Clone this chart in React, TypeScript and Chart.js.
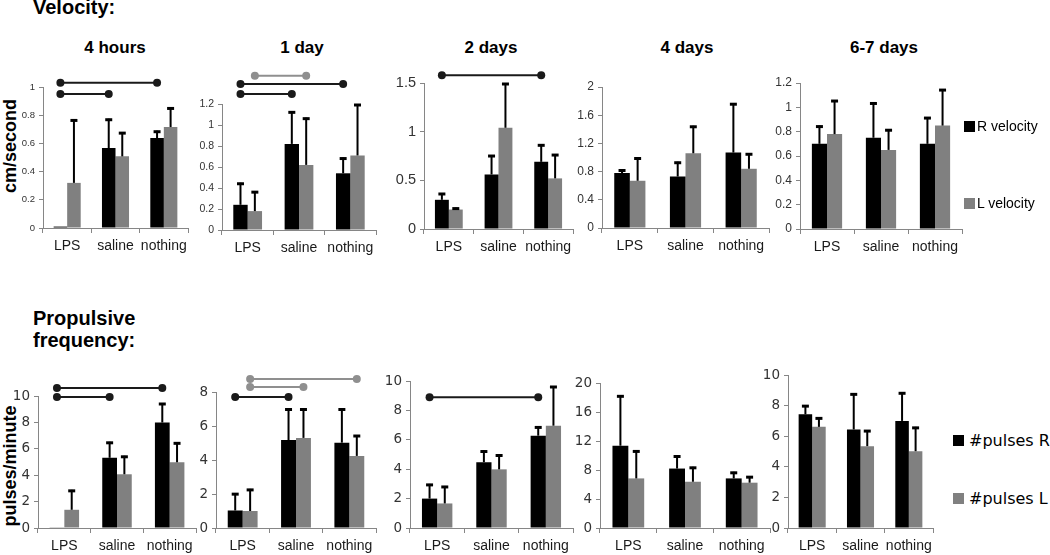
import React, { useEffect, useRef } from "react";
import { Chart, registerables } from "chart.js";

Chart.register(...registerables);

// ---------- data ----------
const categories = ["LPS", "saline", "nothing"];
const panelTitles = ["4 hours", "1 day", "2 days", "4 days", "6-7 days"];

// Velocity (cm/second): bar means and upper ends of the error bars, one row per time point
const velR = [
  [0.01, 0.567, 0.638],
  [0.24, 0.82, 0.54],
  [0.3, 0.56, 0.69],
  [0.78, 0.73, 1.07],
  [0.7, 0.75, 0.7],
];
const velL = [
  [0.32, 0.508, 0.716],
  [0.18, 0.62, 0.71],
  [0.2, 1.04, 0.52],
  [0.67, 1.06, 0.84],
  [0.78, 0.65, 0.85],
];
const velRErr = [
  [0.01, 0.775, 0.69],
  [0.45, 1.13, 0.69],
  [0.37, 0.76, 0.87],
  [0.83, 0.94, 1.77],
  [0.85, 1.04, 0.92],
];
const velLErr = [
  [0.77, 0.68, 0.855],
  [0.37, 1.07, 1.2],
  [0.22, 1.5, 0.77],
  [1.0, 1.45, 1.06],
  [1.06, 0.82, 1.15],
];
const velMax = [1, 1.2, 1.5, 2, 1.2];
const velStep = [0.2, 0.2, 0.5, 0.4, 0.2];

// Propulsive frequency (pulses/minute)
const pulR = [
  [0.05, 5.32, 7.99],
  [1.03, 5.17, 5.02],
  [2.0, 4.48, 6.28],
  [11.35, 8.2, 6.84],
  [7.43, 6.44, 7.0],
];
const pulL = [
  [1.38, 4.07, 4.98],
  [1.0, 5.3, 4.24],
  [1.67, 3.99, 6.96],
  [6.84, 6.38, 6.25],
  [6.61, 5.35, 5.02],
];
const pulRErr = [
  [0.05, 6.53, 9.47],
  [2.05, 7.03, 7.03],
  [3.0, 5.27, 6.91],
  [18.3, 10.0, 7.75],
  [8.03, 8.8, 8.87],
];
const pulLErr = [
  [2.89, 5.47, 6.49],
  [2.3, 7.03, 5.47],
  [2.86, 5.0, 9.66],
  [10.7, 8.44, 7.15],
  [7.23, 6.4, 6.61],
];
const pulMax = [10, 8, 10, 20, 10];
const pulStep = [2, 2, 2, 4, 2];

// significance bars: [fromCategory, fromSeries, toCategory, toSeries, level (axis units), greySeries]
const velSig = [
  [[0, 0, 2, 0, 1.03, 0], [0, 0, 1, 0, 0.95, 0]],
  [[0, 1, 1, 1, 1.47, 1], [0, 0, 2, 0, 1.39, 0], [0, 0, 1, 0, 1.295, 0]],
  [[0, 0, 2, 0, 1.58, 0]],
  [],
  [],
];
const pulSig = [
  [[0, 0, 2, 0, 10.6, 0], [0, 0, 1, 0, 9.92, 0]],
  [[0, 1, 2, 1, 8.76, 1], [0, 1, 1, 1, 8.29, 1], [0, 0, 1, 0, 7.7, 0]],
  [[0, 0, 2, 0, 8.9, 0]],
  [],
  [],
];

// ---------- layout & style ----------
const R_COLOR = "#000000";
const L_COLOR = "#808080";
const AXIS = "#868686";
const SIG_BLACK = "#1a1a1a";
const SIG_GREY = "#8f8f8f";
const ARIAL = "Arial, 'Liberation Sans', sans-serif";
const DEJAVU = "'DejaVu Sans', sans-serif";

const PAD_L = 40;
const PAD_T = 36;
const PAD_R = 6;
const PAD_B = 32;

type Area = { l: number; r: number; t: number; b: number };

const velAreas: Area[] = [
  { l: 43, r: 188, t: 87, b: 228 },
  { l: 222, r: 376, t: 104, b: 230 },
  { l: 424, r: 573, t: 83, b: 229 },
  { l: 602, r: 769, t: 87, b: 228 },
  { l: 800, r: 962, t: 83, b: 229 },
];
const pulAreas: Area[] = [
  { l: 38, r: 196, t: 396, b: 528 },
  { l: 216, r: 376, t: 392, b: 528 },
  { l: 410, r: 573, t: 381, b: 528 },
  { l: 600, r: 770, t: 383, b: 528 },
  { l: 788, r: 933, t: 375, b: 528 },
];
const velTickSize = [9.5, 10.5, 14.5, 12, 12];
const pulTickSize = [13.5, 13.5, 13.5, 13.5, 13.5];
const titleCenters = [115, 302, 491, 687, 884];

type PanelProps = {
  area: Area;
  rVals: number[];
  lVals: number[];
  rErr: number[];
  lErr: number[];
  max: number;
  step: number;
  sig: number[][];
  tickFamily: string;
  tickSize: number;
};

function Panel(p: PanelProps) {
  const ref = useRef<HTMLCanvasElement>(null);
  const w = p.area.r - p.area.l + PAD_L + PAD_R;
  const h = p.area.b - p.area.t + PAD_T + PAD_B;

  useEffect(() => {
    if (!ref.current) return;
    const overlay = {
      id: "errAndSig",
      afterDatasetsDraw(chart: any) {
        const ctx = chart.ctx as CanvasRenderingContext2D;
        const ys = chart.scales.y;
        ctx.save();
        [p.rErr, p.lErr].forEach((errs, di) => {
          const meta = chart.getDatasetMeta(di);
          meta.data.forEach((bar: any, i: number) => {
            const top = ys.getPixelForValue(errs[i]);
            if (Math.abs(top - bar.y) < 1) return;
            ctx.strokeStyle = "#000";
            ctx.lineWidth = 2;
            ctx.beginPath();
            ctx.moveTo(bar.x, bar.y);
            ctx.lineTo(bar.x, top);
            ctx.stroke();
            ctx.lineWidth = 3;
            ctx.beginPath();
            ctx.moveTo(bar.x - 3.5, top + 1);
            ctx.lineTo(bar.x + 3.5, top + 1);
            ctx.stroke();
          });
        });
        p.sig.forEach((s) => {
          const [c0, s0, c1, s1, level, grey] = s;
          const x0 = chart.getDatasetMeta(s0).data[c0].x;
          const x1 = chart.getDatasetMeta(s1).data[c1].x;
          const y = ys.getPixelForValue(level);
          const col = grey ? SIG_GREY : SIG_BLACK;
          ctx.strokeStyle = col;
          ctx.fillStyle = col;
          ctx.lineWidth = 2;
          ctx.beginPath();
          ctx.moveTo(x0, y);
          ctx.lineTo(x1, y);
          ctx.stroke();
          [x0, x1].forEach((x) => {
            ctx.beginPath();
            ctx.arc(x, y, 4, 0, Math.PI * 2);
            ctx.fill();
          });
        });
        ctx.restore();
      },
    };

    const chart = new Chart(ref.current, {
      type: "bar",
      data: {
        labels: categories,
        datasets: [
          { label: "R", data: p.rVals, backgroundColor: R_COLOR, borderWidth: 0 },
          { label: "L", data: p.lVals, backgroundColor: L_COLOR, borderWidth: 0 },
        ],
      },
      options: {
        responsive: false,
        animation: false,
        events: [],
        layout: { padding: { top: PAD_T, right: PAD_R, left: 0, bottom: 0 } },
        datasets: { bar: { categoryPercentage: 0.56, barPercentage: 1 } },
        plugins: {
          legend: { display: false },
          tooltip: { enabled: false },
          title: { display: false },
        },
        scales: {
          x: {
            offset: true,
            grid: {
              offset: true,
              drawOnChartArea: false,
              drawTicks: true,
              tickLength: 5,
              color: AXIS,
            },
            border: { color: AXIS, width: 1 },
            ticks: {
              color: "#1a1a1a",
              padding: 5,
              maxRotation: 0,
              autoSkip: false,
              font: { family: ARIAL, size: 14 },
            },
            afterFit: (s: any) => {
              s.height = PAD_B;
            },
          },
          y: {
            min: 0,
            max: p.max,
            grid: {
              drawOnChartArea: false,
              drawTicks: true,
              tickLength: 4,
              color: AXIS,
            },
            border: { color: AXIS, width: 1 },
            ticks: {
              stepSize: p.step,
              color: "#333333",
              padding: 4,
              font: { family: p.tickFamily, size: p.tickSize },
              callback: (v: any) => String(Number(Number(v).toFixed(3))),
            },
            afterFit: (s: any) => {
              s.width = PAD_L;
            },
          },
        },
      } as any,
      plugins: [overlay],
    });
    return () => chart.destroy();
  }, []);

  return (
    <canvas
      ref={ref}
      width={w}
      height={h}
      style={{
        position: "absolute",
        left: p.area.l - PAD_L,
        top: p.area.t - PAD_T,
        width: w,
        height: h,
      }}
    />
  );
}

function LegendItem(props: {
  x: number;
  y: number;
  color: string;
  text: string;
  family: string;
  size: number;
  gap: number;
}) {
  return (
    <div
      style={{
        position: "absolute",
        left: props.x,
        top: props.y - 12,
        height: 24,
        display: "flex",
        alignItems: "center",
        whiteSpace: "nowrap",
        fontFamily: props.family,
        fontSize: props.size,
        color: "#000",
      }}
    >
      <span
        style={{
          display: "inline-block",
          width: 11,
          height: 11,
          background: props.color,
          marginRight: props.gap,
        }}
      />
      <span>{props.text}</span>
    </div>
  );
}

export default function App() {
  return (
    <div
      style={{
        position: "absolute",
        left: 0,
        top: 0,
        width: 1050,
        height: 555,
        overflow: "hidden",
        background: "#ffffff",
        fontFamily: ARIAL,
      }}
    >
      <div
        style={{
          position: "absolute",
          left: 33,
          top: -3,
          fontSize: 20,
          fontWeight: "bold",
          lineHeight: "20px",
          whiteSpace: "nowrap",
        }}
      >
        Velocity:
      </div>
      <div
        style={{
          position: "absolute",
          left: 33,
          top: 307,
          fontSize: 20,
          fontWeight: "bold",
          lineHeight: "22px",
          whiteSpace: "nowrap",
        }}
      >
        Propulsive
        <br />
        frequency:
      </div>

      {panelTitles.map((t, i) => (
        <div
          key={t}
          style={{
            position: "absolute",
            left: titleCenters[i] - 100,
            width: 200,
            top: 39,
            textAlign: "center",
            fontSize: 17,
            fontWeight: "bold",
            lineHeight: "17px",
          }}
        >
          {t}
        </div>
      ))}

      <div
        style={{
          position: "absolute",
          left: 10 - 100,
          top: 146 - 10,
          width: 200,
          height: 20,
          lineHeight: "20px",
          textAlign: "center",
          fontSize: 18,
          fontWeight: "bold",
          transform: "rotate(-90deg)",
          whiteSpace: "nowrap",
        }}
      >
        cm/second
      </div>
      <div
        style={{
          position: "absolute",
          left: 10 - 100,
          top: 466 - 10,
          width: 200,
          height: 20,
          lineHeight: "20px",
          textAlign: "center",
          fontSize: 18,
          fontWeight: "bold",
          transform: "rotate(-90deg)",
          whiteSpace: "nowrap",
        }}
      >
        pulses/minute
      </div>

      {velAreas.map((a, i) => (
        <Panel
          key={"v" + i}
          area={a}
          rVals={velR[i]}
          lVals={velL[i]}
          rErr={velRErr[i]}
          lErr={velLErr[i]}
          max={velMax[i]}
          step={velStep[i]}
          sig={velSig[i]}
          tickFamily={ARIAL}
          tickSize={velTickSize[i]}
        />
      ))}
      {pulAreas.map((a, i) => (
        <Panel
          key={"p" + i}
          area={a}
          rVals={pulR[i]}
          lVals={pulL[i]}
          rErr={pulRErr[i]}
          lErr={pulLErr[i]}
          max={pulMax[i]}
          step={pulStep[i]}
          sig={pulSig[i]}
          tickFamily={DEJAVU}
          tickSize={pulTickSize[i]}
        />
      ))}

      <LegendItem x={964} y={126} color={R_COLOR} text="R velocity" family={ARIAL} size={14} gap={2} />
      <LegendItem x={964} y={203} color={L_COLOR} text="L velocity" family={ARIAL} size={14} gap={2} />
      <LegendItem x={953} y={440} color={R_COLOR} text="#pulses R" family={DEJAVU} size={16} gap={5} />
      <LegendItem x={953} y={498} color={L_COLOR} text="#pulses L" family={DEJAVU} size={16} gap={5} />
    </div>
  );
}
